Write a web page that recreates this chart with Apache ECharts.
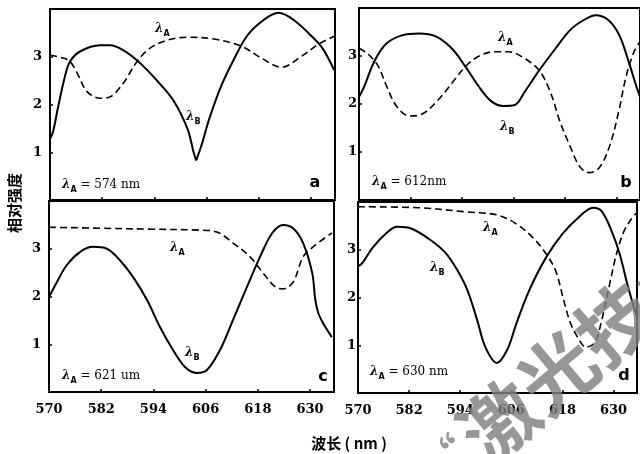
<!DOCTYPE html>
<html><head><meta charset="utf-8">
<script src="https://cdn.jsdelivr.net/npm/echarts@6/dist/echarts.min.js"></script>
<style>html,body{margin:0;padding:0;background:#fff}#c{width:640px;height:454px}</style>
</head><body><div id="c"></div>
<script>
// tick labels
const xTicks = [570, 582, 594, 606, 618, 630];
const yTicks = [1, 2, 3];
const panelNames = ['a', 'b', 'c', 'd'];
const pumpLabels = ['574 nm', '612nm', '621 um', '630 nm'];

// panel a  (λA = 574 nm)
const aB_x = [570, 570.7, 571.8, 573.5, 574.6, 576.9, 581.5, 583.8, 586.8, 590.3, 594.6, 598.4, 601.6, 603, 603.6, 604.8, 606.6, 609.4, 612.4, 615.4, 619.1, 622.5, 626, 629.9, 632.6, 635.3];
const aB_y = [1.28, 1.43, 1.92, 2.61, 2.9, 3.11, 3.24, 3.24, 3.14, 2.9, 2.5, 2.08, 1.49, 1.0, 0.83, 1.14, 1.7, 2.4, 2.97, 3.45, 3.77, 3.92, 3.77, 3.45, 3.18, 2.72];
const aA_x = [570, 572.7, 574.6, 576.5, 578.5, 581.5, 583.8, 586.8, 590, 593, 597, 601.6, 607.7, 614, 618.6, 623.2, 627.8, 632, 635.4];
const aA_y = [3.03, 2.98, 2.9, 2.61, 2.27, 2.13, 2.16, 2.44, 2.9, 3.18, 3.35, 3.41, 3.37, 3.22, 2.97, 2.78, 3.01, 3.28, 3.43];

// panel b  (λA = 612 nm)
const bB_x = [570, 571, 573.7, 576.4, 580, 584, 587.9, 591.6, 594.8, 597.8, 600.8, 603.6, 606.3, 608.6, 612, 615.5, 619.2, 622.4, 625.2, 628.1, 630.7, 633, 634.6, 635.5];
const bB_y = [2.15, 2.32, 2.91, 3.26, 3.43, 3.47, 3.41, 3.16, 2.78, 2.38, 2.06, 1.96, 1.98, 2.25, 2.7, 3.12, 3.54, 3.75, 3.85, 3.75, 3.43, 2.84, 2.38, 2.15];
const bA_x = [570, 572, 574.4, 576.4, 578.7, 581.7, 584.7, 588.6, 592.5, 594.8, 597.8, 601.7, 604.7, 608.6, 612, 614.6, 616.9, 619.2, 621.5, 623.6, 626, 628.4, 630.5, 632.3, 634.1, 635.5];
const bA_y = [3.16, 3.05, 2.8, 2.38, 1.96, 1.75, 1.79, 2.1, 2.53, 2.78, 2.99, 3.09, 3.09, 2.95, 2.7, 2.25, 1.62, 1.12, 0.69, 0.57, 0.67, 1.12, 1.83, 2.59, 3.09, 3.3];

// panel c  (λA = 621 nm)
const cB_x = [570, 571.8, 574.1, 577.1, 580.1, 583.3, 586.3, 589.3, 592.5, 595.5, 598.5, 601.3, 604, 606.3, 609.3, 612.3, 615.5, 618.5, 621.3, 623.8, 626.1, 628.4, 630.5, 631.2, 631.9, 633, 635];
const cB_y = [1.99, 2.3, 2.66, 2.93, 3.04, 3.0, 2.76, 2.41, 1.93, 1.36, 0.88, 0.52, 0.4, 0.46, 0.88, 1.51, 2.2, 2.83, 3.33, 3.5, 3.43, 3.12, 2.49, 1.93, 1.65, 1.44, 1.15];
const cA_x = [570, 581.7, 593.2, 604.7, 608.6, 612.3, 616.2, 619.2, 622, 623.8, 626.1, 628.4, 630.7, 635];
const cA_y = [3.45, 3.43, 3.41, 3.39, 3.35, 3.12, 2.83, 2.49, 2.2, 2.16, 2.3, 2.83, 3.04, 3.33];

// panel d  (λA = 630 nm)
const dB_x = [570, 571.1, 573.4, 576.7, 579.2, 582.6, 586.6, 590.5, 593.4, 595.7, 598, 599.9, 602.6, 605, 607.2, 610.2, 614.1, 618, 621.7, 625.2, 627.2, 629.5, 631.4, 633.2, 634.8, 635.5];
const dB_y = [2.65, 2.73, 3.04, 3.35, 3.48, 3.44, 3.23, 2.94, 2.56, 2.15, 1.52, 0.96, 0.63, 0.9, 1.46, 2.15, 2.83, 3.33, 3.67, 3.88, 3.81, 3.4, 2.92, 2.29, 1.79, 1.6];
const dA_x = [570, 584.3, 595.7, 602.6, 607.2, 611.1, 614.1, 616.4, 618.3, 619.9, 621.7, 623.5, 625.6, 627.2, 629.1, 630.7, 632.5, 634.4, 635.5];
const dA_y = [3.9, 3.88, 3.79, 3.73, 3.54, 3.25, 2.92, 2.56, 1.94, 1.46, 1.15, 0.96, 1.06, 1.52, 2.29, 2.92, 3.4, 3.67, 3.78];

const zip = (xs, ys) => xs.map((x, i) => [x, ys[i]]);
const cusp = aB_x.indexOf(603.6);

const chart = echarts.init(document.getElementById('c'), null, {renderer: 'canvas'});
const grids = [
  {left: 50, top: 9, width: 285, height: 191},
  {left: 359, top: 8, width: 285, height: 192},
  {left: 49, top: 201, width: 285, height: 191},
  {left: 358, top: 202, width: 285, height: 191}
].map(g => Object.assign(g, {show: true, borderColor: '#000', borderWidth: 2, backgroundColor: 'transparent'}));

const numFont = {fontFamily: 'DejaVu Serif', fontWeight: 'bold', fontSize: 13, color: '#000'};
const xAxes = grids.map((g, i) => ({
  type: 'value', gridIndex: i, min: 570, max: 635.5, interval: 12,
  axisLine: {show: false}, splitLine: {show: false},
  axisTick: {show: true, inside: true, length: 3, lineStyle: {color: '#000', width: 1.5}},
  axisLabel: Object.assign({show: i >= 2, margin: 11,
    formatter: v => xTicks.includes(Math.round(v * 10) / 10) ? String(v) : ''}, numFont)
}));
const yAxes = grids.map((g, i) => ({
  type: 'value', gridIndex: i, min: 0, max: 4, interval: 1,
  axisLine: {show: false}, splitLine: {show: false},
  axisTick: {show: true, inside: true, length: 3, lineStyle: {color: '#000', width: 1.5}},
  axisLabel: Object.assign({margin: i % 2 === 0 ? 8 : 2,
    formatter: v => yTicks.includes(v) ? String(v) : ''}, numFont)
}));

const solid = {type: 'line', showSymbol: false, smooth: 0.35, lineStyle: {color: '#000', width: 2}, z: 3};
const dashed = {type: 'line', showSymbol: false, smooth: 0.35, lineStyle: {color: '#000', width: 1.6, type: [7, 4]}, z: 2};
const mk = (base, idx, data) => Object.assign({}, base, {xAxisIndex: idx, yAxisIndex: idx, data: data});

const series = [
  mk(solid, 0, zip(aB_x.slice(0, cusp + 1), aB_y.slice(0, cusp + 1))),
  mk(solid, 0, zip(aB_x.slice(cusp), aB_y.slice(cusp))),
  mk(dashed, 0, zip(aA_x, aA_y)),
  mk(solid, 1, zip(bB_x, bB_y)),
  mk(dashed, 1, zip(bA_x, bA_y)),
  mk(solid, 2, zip(cB_x, cB_y)),
  mk(dashed, 2, zip(cA_x, cA_y)),
  mk(solid, 3, zip(dB_x, dB_y)),
  mk(dashed, 3, zip(dA_x, dA_y))
];

const rich = {
  i: {fontFamily: 'DejaVu Serif', fontStyle: 'italic', fontWeight: 'bold', fontSize: 12, color: '#000'},
  s: {fontFamily: 'DejaVu Sans', fontWeight: 'bold', fontSize: 8, color: '#000', verticalAlign: 'bottom', lineHeight: 18},
  t: {fontFamily: 'DejaVu Serif', fontSize: 12, color: '#000'}
};
const lam = (x, y, sub, tail) => ({
  type: 'text', x: x, y: y, z: 50,
  style: {text: '{i|λ}{s|' + sub + '}' + (tail ? '{t| = ' + tail + '}' : ''), rich: rich,
    textAlign: 'left', textVerticalAlign: 'middle'}
});
const letter = (x, y, t) => ({
  type: 'text', x: x, y: y, z: 50,
  style: {text: t, fontFamily: 'DejaVu Sans', fontWeight: 'bold', fontSize: 16, fill: '#000',
    textAlign: 'center', textVerticalAlign: 'middle'}
});

const wmColor = 'rgba(128,128,128,0.82)';
const graphic = [
  // panel a
  lam(155, 29, 'A'), lam(186, 117, 'B'), lam(62, 185, 'A', pumpLabels[0]), letter(315, 183, panelNames[0]),
  // panel b
  lam(498, 38, 'A'), lam(500, 127, 'B'), lam(372, 182, 'A', pumpLabels[1]), letter(626, 183, panelNames[1]),
  // panel c
  lam(170, 248, 'A'), lam(185, 353, 'B'), lam(62, 376, 'A', pumpLabels[2]), letter(323, 377, panelNames[2]),
  // panel d
  lam(483, 228, 'A'), lam(430, 268, 'B'), lam(370, 372, 'A', pumpLabels[3]), letter(624, 376, panelNames[3]),
  // axis titles
  {type: 'text', x: 14, y: 203, rotation: Math.PI / 2, z: 50,
    style: {text: '相对强度', fontFamily: 'Noto Sans CJK SC', fontWeight: 'bold', fontSize: 15, fill: '#000',
      textAlign: 'center', textVerticalAlign: 'middle'}},
  {type: 'text', x: 349, y: 443, z: 50,
    style: {text: '波长 ( nm )', fontFamily: 'Noto Sans CJK SC', fontWeight: 'bold', fontSize: 15, fill: '#000',
      textAlign: 'center', textVerticalAlign: 'middle'}},
  // watermark
  {type: 'text', x: 446, y: 458, rotation: 0.7, z: 100,
    style: {text: '“', fontFamily: 'Noto Sans CJK SC', fontWeight: 'bold', fontSize: 40, fill: wmColor,
      textAlign: 'center', textVerticalAlign: 'middle'}},
  {type: 'text', x: 470, y: 446, rotation: 0.7, z: 100,
    style: {text: '激光技术', fontFamily: 'Noto Sans CJK SC', fontWeight: 'bold', fontSize: 76, fill: wmColor,
      textAlign: 'left', textVerticalAlign: 'middle'}}
];

chart.setOption({
  backgroundColor: '#fff',
  animation: false,
  grid: grids, xAxis: xAxes, yAxis: yAxes, series: series, graphic: graphic
});
</script></body></html>
